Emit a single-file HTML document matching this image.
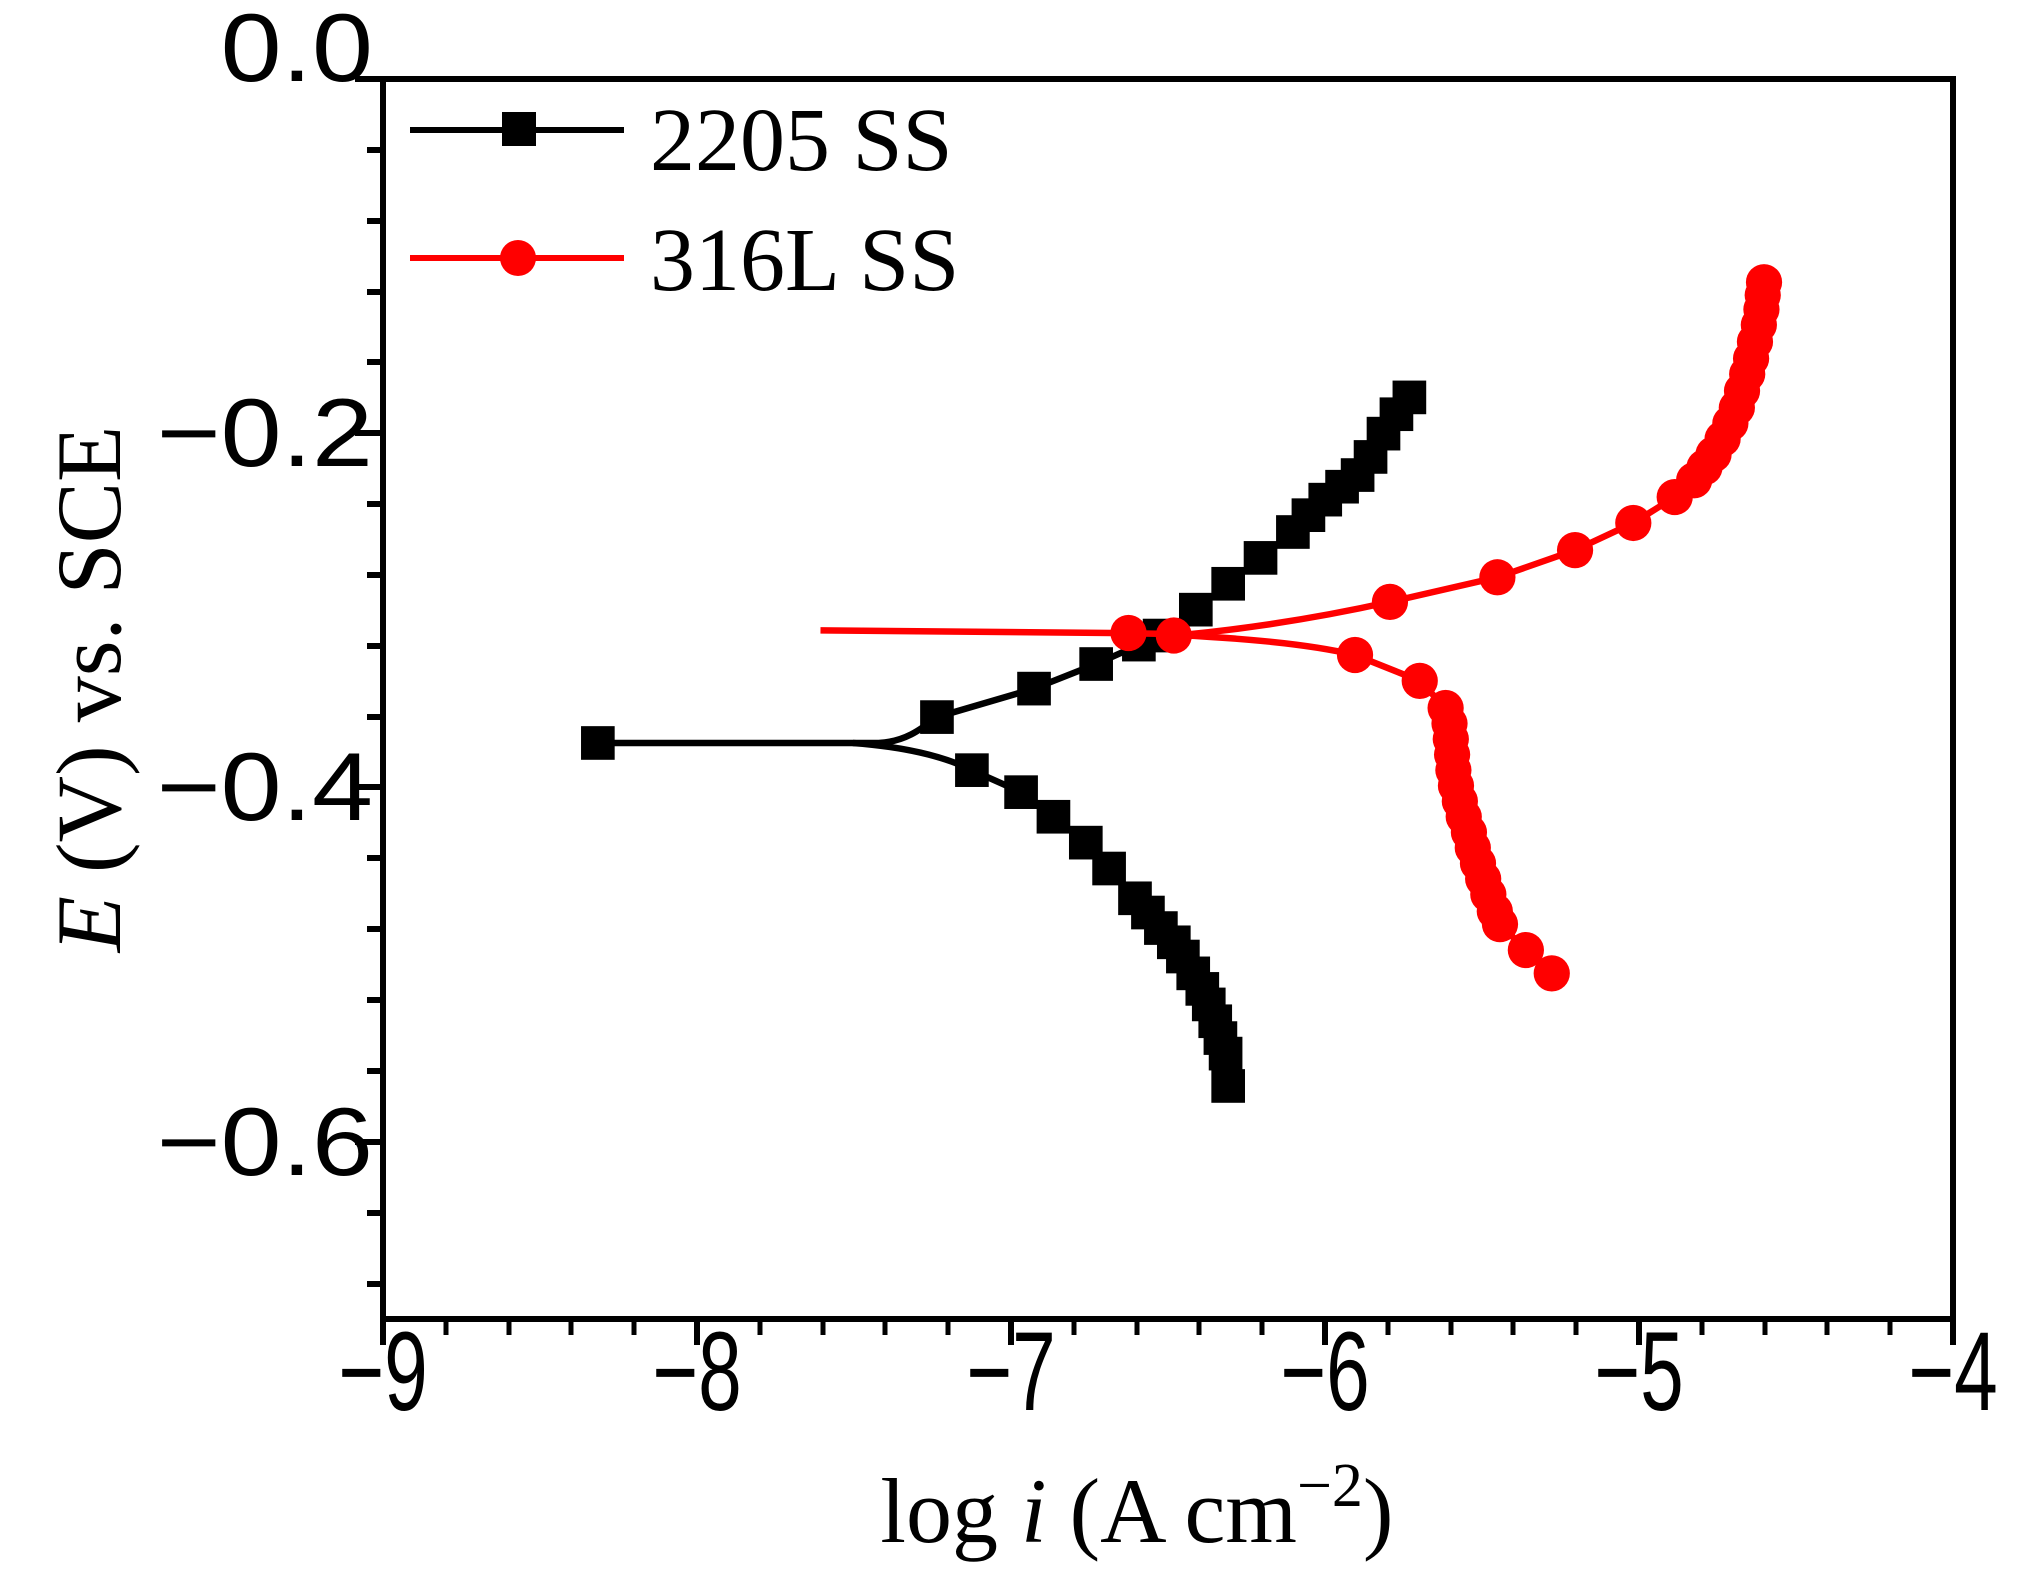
<!DOCTYPE html>
<html><head><meta charset="utf-8"><style>
html,body{margin:0;padding:0;background:#fff;}
svg{display:block;}
</style></head><body>
<svg width="2027" height="1583" viewBox="0 0 2027 1583" xmlns="http://www.w3.org/2000/svg">
<rect width="2027" height="1583" fill="#fff"/>
<rect x="383" y="79" width="1570" height="1240" fill="none" stroke="#000" stroke-width="6"/>
<g stroke="#000" stroke-width="6">
<line x1="355" y1="79" x2="383" y2="79"/>
<line x1="355" y1="433" x2="383" y2="433"/>
<line x1="355" y1="787" x2="383" y2="787"/>
<line x1="355" y1="1142" x2="383" y2="1142"/>
<line x1="367" y1="150" x2="383" y2="150"/><line x1="367" y1="221" x2="383" y2="221"/><line x1="367" y1="292" x2="383" y2="292"/><line x1="367" y1="362" x2="383" y2="362"/>
<line x1="367" y1="504" x2="383" y2="504"/><line x1="367" y1="575" x2="383" y2="575"/><line x1="367" y1="646" x2="383" y2="646"/><line x1="367" y1="717" x2="383" y2="717"/>
<line x1="367" y1="858" x2="383" y2="858"/><line x1="367" y1="929" x2="383" y2="929"/><line x1="367" y1="1000" x2="383" y2="1000"/><line x1="367" y1="1071" x2="383" y2="1071"/>
<line x1="367" y1="1213" x2="383" y2="1213"/><line x1="367" y1="1284" x2="383" y2="1284"/>
<line x1="383" y1="1319" x2="383" y2="1345"/><line x1="697" y1="1319" x2="697" y2="1345"/><line x1="1011" y1="1319" x2="1011" y2="1345"/><line x1="1325" y1="1319" x2="1325" y2="1345"/><line x1="1639" y1="1319" x2="1639" y2="1345"/><line x1="1953" y1="1319" x2="1953" y2="1345"/>
</g>
<g stroke="#000" stroke-width="5">
<line x1="446" y1="1319" x2="446" y2="1335"/><line x1="509" y1="1319" x2="509" y2="1335"/><line x1="571" y1="1319" x2="571" y2="1335"/><line x1="634" y1="1319" x2="634" y2="1335"/>
<line x1="760" y1="1319" x2="760" y2="1335"/><line x1="823" y1="1319" x2="823" y2="1335"/><line x1="885" y1="1319" x2="885" y2="1335"/><line x1="948" y1="1319" x2="948" y2="1335"/>
<line x1="1074" y1="1319" x2="1074" y2="1335"/><line x1="1137" y1="1319" x2="1137" y2="1335"/><line x1="1199" y1="1319" x2="1199" y2="1335"/><line x1="1262" y1="1319" x2="1262" y2="1335"/>
<line x1="1388" y1="1319" x2="1388" y2="1335"/><line x1="1451" y1="1319" x2="1451" y2="1335"/><line x1="1513" y1="1319" x2="1513" y2="1335"/><line x1="1576" y1="1319" x2="1576" y2="1335"/>
<line x1="1702" y1="1319" x2="1702" y2="1335"/><line x1="1765" y1="1319" x2="1765" y2="1335"/><line x1="1827" y1="1319" x2="1827" y2="1335"/><line x1="1890" y1="1319" x2="1890" y2="1335"/>
</g>
<g font-family="Liberation Sans, Arial, sans-serif" font-size="97" fill="#000" text-anchor="end">
<text transform="translate(373,81) scale(1.13,1)">0.0</text>
<text transform="translate(373,466) scale(1.13,1)">−0.2</text>
<text transform="translate(373,820) scale(1.13,1)">−0.4</text>
<text transform="translate(373,1175) scale(1.13,1)">−0.6</text>
</g>
<g font-family="Liberation Sans, Arial, sans-serif" font-size="112" fill="#000" text-anchor="middle">
<text transform="translate(383,1410) scale(0.7,1)">−9</text>
<text transform="translate(697,1410) scale(0.7,1)">−8</text>
<text transform="translate(1011,1410) scale(0.7,1)">−7</text>
<text transform="translate(1325,1410) scale(0.7,1)">−6</text>
<text transform="translate(1639,1410) scale(0.7,1)">−5</text>
<text transform="translate(1953,1410) scale(0.7,1)">−4</text>
</g>
<g font-family="Liberation Serif, Times New Roman, serif" font-size="92" fill="#000">
<text x="1137" y="1542" text-anchor="middle">log <tspan font-style="italic">i</tspan> (A cm<tspan dy="-36" font-size="62">−2</tspan><tspan dy="36">)</tspan></text>
<text transform="translate(120,689) rotate(-90)" text-anchor="middle"><tspan font-style="italic">E</tspan> (V) vs. SCE</text>
</g>
<line x1="410" y1="130" x2="624" y2="130" stroke="#000" stroke-width="6"/>
<rect x="502" y="112" width="34" height="34" fill="#000"/>
<line x1="410" y1="258" x2="624" y2="258" stroke="#f00" stroke-width="6"/>
<circle cx="518" cy="258" r="18" fill="#f00"/>
<g font-family="Liberation Serif, Times New Roman, serif" font-size="90" fill="#000">
<text x="650" y="170">2205 SS</text>
<text x="650" y="290">316L SS</text>
</g>
<g transform="translate(383,79) scale(1.2943) translate(-297,-62)">
<path d="M463,575 L680,575 C700,574 712,565 725,555 L800,533 L848,514 L897,492 L925,472 L950,452 L975,432 L1000,412 L1025,387 L1050,368 L1070,345 L1090,308" fill="none" stroke="#000" stroke-width="5"/>
<path d="M660,575 C700,578 730,585 752,596 L790,613 L815,632 L840,652 L858,672 L878,695 L898,718 L915,740 L930,765 L940,790 L948,815 L950,840" fill="none" stroke="#000" stroke-width="5"/>
<g fill="#000">
<rect x="450" y="562" width="26" height="26"/>
<rect x="712" y="542" width="26" height="26"/><rect x="787" y="520" width="26" height="26"/><rect x="835" y="501" width="26" height="26"/>
<rect x="868" y="486" width="26" height="26"/><rect x="884" y="479" width="26" height="26"/><rect x="912" y="459" width="26" height="26"/>
<rect x="937" y="439" width="26" height="26"/><rect x="962" y="419" width="26" height="26"/><rect x="987" y="399" width="26" height="26"/>
<rect x="999" y="386" width="26" height="26"/><rect x="1012" y="374" width="26" height="26"/><rect x="1025" y="364" width="26" height="26"/>
<rect x="1037" y="355" width="26" height="26"/><rect x="1047" y="341" width="26" height="26"/><rect x="1057" y="323" width="26" height="26"/><rect x="1067" y="308" width="26" height="26"/><rect x="1077" y="295" width="26" height="26"/>
<rect x="739" y="583" width="26" height="26"/><rect x="777" y="600" width="26" height="26"/><rect x="802" y="619" width="26" height="26"/>
<rect x="827" y="639" width="26" height="26"/><rect x="845" y="659" width="26" height="26"/><rect x="865" y="682" width="26" height="26"/>
<rect x="875" y="693" width="26" height="26"/><rect x="885" y="705" width="26" height="26"/><rect x="895" y="716" width="26" height="26"/>
<rect x="902" y="727" width="26" height="26"/><rect x="910" y="740" width="26" height="26"/><rect x="917" y="752" width="26" height="26"/>
<rect x="922" y="764" width="26" height="26"/><rect x="927" y="777" width="26" height="26"/><rect x="931" y="790" width="26" height="26"/>
<rect x="935" y="802" width="26" height="26"/><rect x="937" y="827" width="26" height="26"/>
</g>
<path d="M635,488 L860,490 L920,491 C980,485 1030,476 1075,466 L1158,447 L1218,426 L1263,405 L1295,385 L1318,365 L1330,345 L1340,325 L1347,305 L1353,285 L1357,265 L1361,245 L1363,230 L1365,218" fill="none" stroke="#f00" stroke-width="5"/>
<path d="M900,491 C960,494 1010,498 1048,507 L1098,527 L1118,548 L1122,570 L1123,590 L1126,610 L1132,630 L1138,652 L1145,672 L1152,695 L1160,715 L1180,735 L1200,753" fill="none" stroke="#f00" stroke-width="5"/>
<g fill="#f00">
<circle cx="873" cy="490" r="14"/><circle cx="908" cy="492" r="14"/>
<circle cx="1075" cy="466" r="14"/><circle cx="1158" cy="447" r="14"/><circle cx="1218" cy="426" r="14"/><circle cx="1263" cy="405" r="14"/>
<circle cx="1295" cy="385" r="14"/><circle cx="1310" cy="372" r="14"/><circle cx="1318" cy="362" r="14"/><circle cx="1325" cy="352" r="14"/><circle cx="1332" cy="340" r="14"/>
<circle cx="1338" cy="328" r="14"/><circle cx="1343" cy="316" r="14"/><circle cx="1347" cy="303" r="14"/><circle cx="1351" cy="290" r="14"/>
<circle cx="1354" cy="278" r="14"/><circle cx="1357" cy="265" r="14"/><circle cx="1360" cy="252" r="14"/><circle cx="1362" cy="240" r="14"/><circle cx="1363" cy="229" r="14"/><circle cx="1364" cy="219" r="14"/>
<circle cx="1048" cy="507" r="14"/><circle cx="1098" cy="527" r="14"/><circle cx="1118" cy="548" r="14"/><circle cx="1121" cy="560" r="14"/>
<circle cx="1122" cy="572" r="14"/><circle cx="1123" cy="584" r="14"/><circle cx="1124" cy="596" r="14"/><circle cx="1126" cy="608" r="14"/>
<circle cx="1129" cy="620" r="14"/><circle cx="1132" cy="632" r="14"/><circle cx="1136" cy="644" r="14"/><circle cx="1139" cy="656" r="14"/>
<circle cx="1143" cy="668" r="14"/><circle cx="1147" cy="680" r="14"/><circle cx="1151" cy="692" r="14"/><circle cx="1156" cy="705" r="14"/><circle cx="1160" cy="715" r="14"/>
<circle cx="1180" cy="735" r="14"/><circle cx="1200" cy="753" r="14"/>
</g>
</g>
</svg>
</body></html>
